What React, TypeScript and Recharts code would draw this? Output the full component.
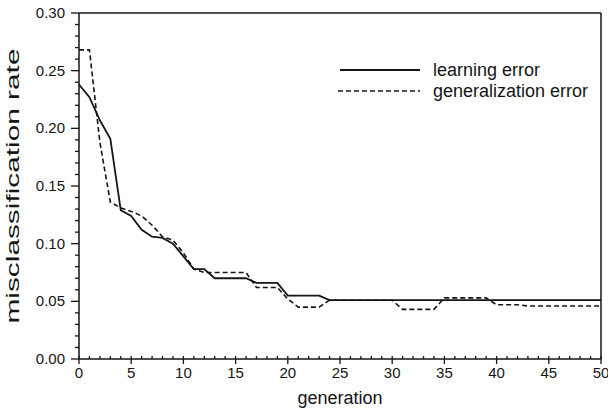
import React from 'react';
import {
  LineChart,
  Line,
  XAxis,
  YAxis,
  ReferenceLine,
  Legend,
  Label,
} from 'recharts';

const generations = [
  0, 1, 2, 3, 4, 5, 6, 7, 8, 9, 10, 11, 12, 13, 14, 15, 16, 17, 18, 19, 20, 21, 22, 23, 24, 25,
  26, 27, 28, 29, 30, 31, 32, 33, 34, 35, 36, 37, 38, 39, 40, 41, 42, 43, 44, 45, 46, 47, 48, 49, 50,
];

const learningError = [
  0.238, 0.227, 0.207, 0.191, 0.129, 0.124, 0.112, 0.106, 0.105, 0.1, 0.089, 0.078, 0.078, 0.07, 0.07,
  0.07, 0.07, 0.066, 0.066, 0.066, 0.055, 0.055, 0.055, 0.055, 0.051, 0.051, 0.051, 0.051, 0.051, 0.051,
  0.051, 0.051, 0.051, 0.051, 0.051, 0.051, 0.051, 0.051, 0.051, 0.051, 0.051, 0.051, 0.051, 0.051, 0.051,
  0.051, 0.051, 0.051, 0.051, 0.051, 0.051,
];

const generalizationError = [
  0.268, 0.268, 0.188, 0.136, 0.131, 0.128, 0.124, 0.116, 0.106, 0.103, 0.092, 0.078, 0.075, 0.075, 0.075,
  0.075, 0.075, 0.062, 0.062, 0.062, 0.052, 0.045, 0.045, 0.045, 0.051, 0.051, 0.051, 0.051, 0.051, 0.051,
  0.051, 0.043, 0.043, 0.043, 0.043, 0.053, 0.053, 0.053, 0.053, 0.053, 0.047, 0.047, 0.047, 0.046, 0.046,
  0.046, 0.046, 0.046, 0.046, 0.046, 0.046,
];

const xTicks = generations;
const yTicks = [
  0, 0.01, 0.02, 0.03, 0.04, 0.05, 0.06, 0.07, 0.08, 0.09, 0.1, 0.11, 0.12, 0.13, 0.14, 0.15, 0.16,
  0.17, 0.18, 0.19, 0.2, 0.21, 0.22, 0.23, 0.24, 0.25, 0.26, 0.27, 0.28, 0.29, 0.3,
];

const data = generations.map((g, i) => ({
  gen: g,
  learning: learningError[i],
  generalization: generalizationError[i],
}));

const FONT = '"Liberation Sans", Arial, Helvetica, sans-serif';
const INK = '#151515';

const XTick = (props: any) => {
  const { x, y, payload } = props;
  const major = payload.value % 5 === 0;
  return (
    <g>
      <line x1={x} x2={x} y1={y - 3} y2={major ? y + 5 : y} stroke={INK} strokeWidth={1.3} />
      {major && (
        <text x={x} y={y + 19} textAnchor="middle" fontSize={15} fill={INK} fontFamily={FONT}>
          {payload.value}
        </text>
      )}
    </g>
  );
};

const YTick = (props: any) => {
  const { x, y, payload } = props;
  const major = Math.round(payload.value * 100) % 5 === 0;
  return (
    <g>
      <line x1={major ? x - 8 : x - 4} x2={x} y1={y} y2={y} stroke={INK} strokeWidth={1.3} />
      {major && (
        <text x={x - 14} y={y + 5} textAnchor="end" fontSize={15} fill={INK} fontFamily={FONT}>
          {payload.value.toFixed(2)}
        </text>
      )}
    </g>
  );
};

const renderLegend = () => (
  <svg width={270} height={44}>
    <line x1={5} x2={85} y1={12} y2={12} stroke={INK} strokeWidth={1.8} />
    <text x={98} y={18} fontSize={18} fill={INK} fontFamily={FONT}>learning error</text>
    <line x1={3} x2={85} y1={33} y2={33} stroke={INK} strokeWidth={1.6} strokeDasharray="5 3" />
    <text x={98} y={39} fontSize={18} fill={INK} fontFamily={FONT}>generalization error</text>
  </svg>
);

const App: React.FC = () => {
  return (
    <div style={{ width: 608, height: 412, background: '#fff' }}>
      <style>{'body{margin:0}'}</style>
      <LineChart width={608} height={412} data={data} margin={{ top: 13, right: 7, left: 0, bottom: 0 }}>
        <XAxis
          type="number"
          dataKey="gen"
          domain={[0, 50]}
          ticks={xTicks}
          interval={0}
          tick={<XTick />}
          tickSize={0}
          tickMargin={0}
          tickLine={false}
          axisLine={{ stroke: INK, strokeWidth: 1.5 }}
          height={53}
        >
          <Label
            content={() => (
              <text x={340} y={404} textAnchor="middle" fontSize={18} fill={INK} fontFamily={FONT}>
                generation
              </text>
            )}
          />
        </XAxis>
        <YAxis
          type="number"
          domain={[0, 0.3]}
          ticks={yTicks}
          interval={0}
          tick={<YTick />}
          tickSize={0}
          tickMargin={0}
          tickLine={false}
          axisLine={{ stroke: INK, strokeWidth: 1.5 }}
          width={79}
        >
          <Label
            content={() => (
              <text
                x={13}
                y={186}
                transform="rotate(-90, 13, 186)"
                textAnchor="middle"
                dominantBaseline="central"
                fontSize={18}
                textLength={275}
                lengthAdjust="spacingAndGlyphs"
                fill={INK}
                fontFamily={FONT}
              >
                misclassification rate
              </text>
            )}
          />
        </YAxis>
        <ReferenceLine y={0.3} stroke={INK} strokeWidth={1.5} />
        <ReferenceLine x={50} stroke={INK} strokeWidth={1.5} />
        <Legend
          layout="vertical"
          align="center"
          verticalAlign="middle"
          content={renderLegend}
          wrapperStyle={{ left: 335, top: 58, width: 270, height: 44 }}
        />
        <Line
          type="linear"
          dataKey="learning"
          name="learning error"
          stroke={INK}
          strokeWidth={1.8}
          dot={false}
          isAnimationActive={false}
        />
        <Line
          type="linear"
          dataKey="generalization"
          name="generalization error"
          stroke={INK}
          strokeWidth={1.6}
          strokeDasharray="5 3"
          dot={false}
          isAnimationActive={false}
        />
      </LineChart>
    </div>
  );
};

export default App;
